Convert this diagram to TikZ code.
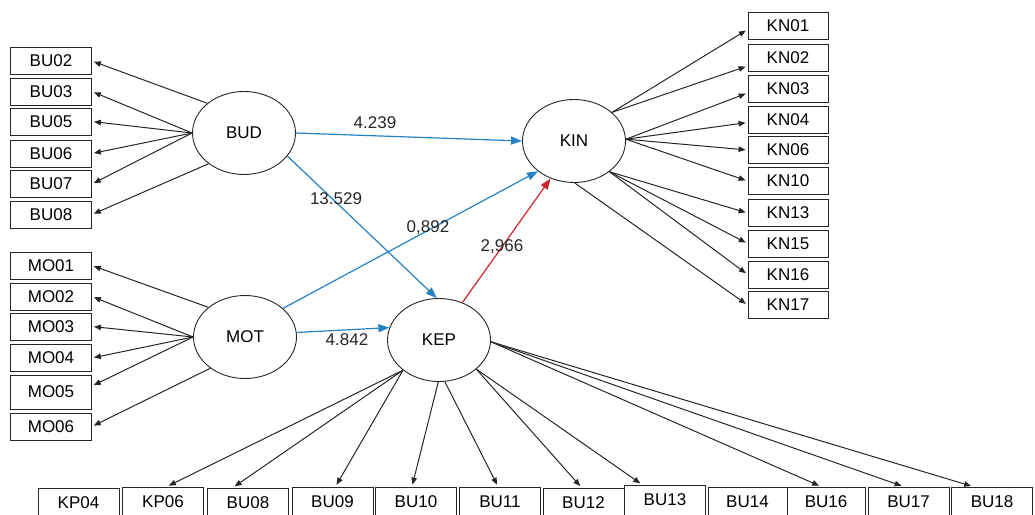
\documentclass[tikz,border=0pt]{standalone}
\usepackage{fontspec}
\setmainfont{Liberation Sans}
\usepackage{tikz}
\usetikzlibrary{shapes,arrows.meta,positioning}
\definecolor{pathblue}{RGB}{38,128,196}
\definecolor{pathred}{RGB}{205,35,45}
\tikzset{
indicator/.style={
  draw=black!85, rectangle,
  minimum width=81pt, minimum height=27pt,
  inner sep=0pt, line width=0.9pt,
  font=\fontsize{17}{20}\selectfont
},
construct/.style={
  draw=black!85, ellipse,
  minimum width=103pt, minimum height=83pt,
  inner sep=0pt, line width=0.9pt,
  font=\fontsize{17}{20}\selectfont
},
loading/.style={-{Triangle[length=7pt,width=5.5pt]}, line width=1pt, black!85, shorten >=2pt},
bluepath/.style={-{Triangle[length=11pt,width=8pt]}, line width=1.2pt, pathblue},
redpath/.style={-{Triangle[length=11pt,width=8pt]}, line width=1.2pt, pathred},
weight/.style={font=\fontsize{17}{20}\selectfont, inner sep=0pt, text=black!85},
}

\begin{document}
\begin{tikzpicture}[x=1pt,y=-1pt]
\useasboundingbox (0,0) rectangle (1035,514);

% constructs
\node[construct] (BUD) at (244,133) {BUD};
\node[construct] (MOT) at (245,337) {MOT};
\node[construct] (KIN) at (574,141) {KIN};
\node[construct] (KEP) at (439,340) {KEP};

% indicators of BUD
\node[indicator] (bu02) at (51,61) {BU02};
\node[indicator] (bu03) at (51,91.5) {BU03};
\node[indicator] (bu05) at (51,121.5) {BU05};
\node[indicator] (bu06) at (51,153.5) {BU06};
\node[indicator] (bu07) at (51,184) {BU07};
\node[indicator] (bu08) at (51,214.5) {BU08};

% indicators of MOT
\node[indicator] (mo01) at (51,265.5) {MO01};
\node[indicator] (mo02) at (51,296.5) {MO02};
\node[indicator] (mo03) at (51,326.5) {MO03};
\node[indicator] (mo04) at (51,358) {MO04};
\node[indicator, minimum height=34pt] (mo05) at (51,392) {MO05};
\node[indicator] (mo06) at (51,426.5) {MO06};

% indicators of KIN
\node[indicator, minimum width=80pt] (kn01) at (788,25.5) {KN01};
\node[indicator, minimum width=80pt] (kn02) at (788,58) {KN02};
\node[indicator, minimum width=80pt] (kn03) at (788,89) {KN03};
\node[indicator, minimum width=80pt] (kn04) at (788,119.5) {KN04};
\node[indicator, minimum width=80pt] (kn06) at (788,150) {KN06};
\node[indicator, minimum width=80pt] (kn10) at (788,181) {KN10};
\node[indicator, minimum width=80pt] (kn13) at (788,213) {KN13};
\node[indicator, minimum width=80pt] (kn15) at (788,243.5) {KN15};
\node[indicator, minimum width=80pt] (kn16) at (788,274.5) {KN16};
\node[indicator, minimum width=80pt] (kn17) at (788,305) {KN17};

% indicators of KEP
\node[indicator, minimum height=30pt] (kp04) at (78.5,503) {KP04};
\node[indicator, minimum height=30pt] (kp06) at (163,502) {KP06};
\node[indicator, minimum height=30pt] (kbu08) at (248,503) {BU08};
\node[indicator, minimum height=30pt] (kbu09) at (332.5,502) {BU09};
\node[indicator, minimum height=30pt] (kbu10) at (416,502) {BU10};
\node[indicator, minimum height=30pt] (kbu11) at (500,502) {BU11};
\node[indicator, minimum height=30pt] (kbu12) at (583.5,503) {BU12};
\node[indicator, minimum height=30pt] (kbu13) at (665,500) {BU13};
\node[indicator, minimum height=30pt, minimum width=79pt] (kbu14) at (747.5,502) {BU14};
\node[indicator, minimum height=30pt, minimum width=78pt] (kbu16) at (826,502) {BU16};
\node[indicator, minimum height=30pt] (kbu17) at (908.5,502) {BU17};
\node[indicator, minimum height=30pt] (kbu18) at (992,502) {BU18};

% loadings
\draw[loading] (BUD.141) -- (bu02.east);
\draw[loading] (BUD.west) -- (bu03.east);
\draw[loading] (BUD.west) -- (bu05.east);
\draw[loading] (BUD.west) -- (bu06.east);
\draw[loading] (BUD.west) -- (bu07.east);
\draw[loading] (BUD.-139) -- (bu08.east);

\draw[loading] (MOT.141) -- (mo01.east);
\draw[loading] (MOT.west) -- (mo02.east);
\draw[loading] (MOT.west) -- (mo03.east);
\draw[loading] (MOT.west) -- (mo04.east);
\draw[loading] (MOT.west) -- ([yshift=6pt]mo05.east);
\draw[loading] (MOT.-138) -- (mo06.east);

\draw[loading] (KIN.37) -- ([yshift=-4pt]kn01.west);
\draw[loading] (KIN.37) -- ([yshift=-8pt]kn02.west);
\draw[loading] (KIN.2) -- ([yshift=-4pt]kn03.west);
\draw[loading] (KIN.2) -- ([yshift=-3pt]kn04.west);
\draw[loading] (KIN.2) -- (kn06.west);
\draw[loading] (KIN.2) -- (kn10.west);
\draw[loading] (KIN.-41) -- (kn13.west);
\draw[loading] (KIN.-41) -- (kn15.west);
\draw[loading] (KIN.-41) -- (kn16.west);
\draw[loading] (KIN.-89) -- (kn17.west);

\draw[loading] (KEP.-140) -- ([xshift=4pt]kp06.north);
\draw[loading] (KEP.-140) -- ([xshift=-15pt]kbu08.north);
\draw[loading] (KEP.-140) -- ([xshift=3pt]kbu09.north);
\draw[loading] (KEP.-91) -- ([xshift=-4pt]kbu10.north);
\draw[loading] (KEP.-82) -- ([xshift=-2pt]kbu11.north);
\draw[loading] (KEP.-38) -- ([xshift=-2pt]kbu12.north);
\draw[loading] (KEP.-38) -- ([xshift=-23pt]kbu13.north);
\draw[loading] (KEP.-2) -- ([xshift=-5pt]kbu16.north);
\draw[loading] (KEP.-2) -- ([xshift=-5pt]kbu17.north);
\draw[loading] (KEP.-2) -- ([xshift=-19pt]kbu18.north);

% structural paths
\draw[bluepath] (BUD.east) -- (KIN.west);
\draw[bluepath] (BUD.-28) -- (KEP.93);
\draw[bluepath] (MOT.37) -- (KIN.-140);
\draw[bluepath] (MOT.5) -- (KEP.166);
\draw[redpath] (KEP.58) -- (KIN.-122);

\node[weight] (w1) at (375,123) {4.239};
\node[weight] (w2) at (336,199) {13.529};
\node[weight] (w3) at (428,228) {0,892};
\node[weight] (w4) at (502,247) {2,966};
\node[weight] (w5) at (347,340) {4.842};
\end{tikzpicture}
\end{document}
